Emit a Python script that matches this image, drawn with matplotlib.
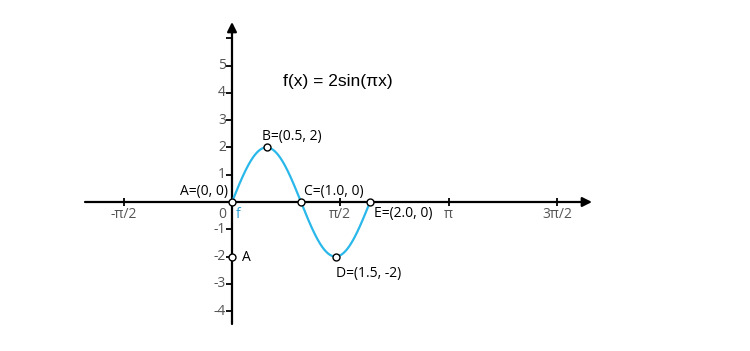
import numpy as np
import matplotlib
matplotlib.use('Agg')
import matplotlib.pyplot as plt

plt.rcParams['font.family'] = ['Open Sans', 'DejaVu Sans']

# data
x_ticks = [-np.pi / 2, np.pi / 2, np.pi, 3 * np.pi / 2]
x_tick_labels = ['-\u03c0/2', '\u03c0/2', '\u03c0', '3\u03c0/2']
y_ticks = [-4, -3, -2, -1, 1, 2, 3, 4, 5]
y_tick_extra = [6]
pt_names = ['A=(0, 0)', 'B=(0.5, 2)', 'C=(1.0, 0)', 'D=(1.5, -2)', 'E=(2.0, 0)', 'A']
pt_x = [0, 0.5, 1.0, 1.5, 2.0, 0]
pt_y = [0, 2, 0, -2, 0, -2]
# label offsets in pixels and alignment
pt_off = [(-4, 10), (-4, 11), (3, 10), (1, -17), (4, -11), (10, -1)]
pt_ha = ['right', 'left', 'left', 'left', 'left', 'left']

curve_x = np.linspace(0, 2, 300)
curve_y = 2 * np.sin(np.pi * curve_x)

fig = plt.figure(figsize=(7.5, 3.51), dpi=100)
ax = fig.add_axes([0, 0, 1, 1])
sx = 69.0
sy = 27.3
ax.set_xlim(-232 / sx, 518 / sx)
ax.set_ylim(-149 / sy, 202 / sy)
ax.axis('off')

# axes with arrows
arr = dict(arrowstyle='-|>', lw=1.6, color='black', mutation_scale=14,
           shrinkA=0, shrinkB=0)
ax.annotate('', xy=(360 / sx, 0), xytext=(-147 / sx, 0), arrowprops=arr)
ax.annotate('', xy=(0, 180 / sy), xytext=(0, -122 / sy), arrowprops=arr)

# tick marks
ax.plot(x_ticks, [0] * len(x_ticks), ls='none', marker='|', ms=6, mew=1.3, color='black')
ax.plot([0] * len(y_ticks + y_tick_extra), y_ticks + y_tick_extra, ls='none',
        marker=0, ms=4, mew=1.3, color='black')

tick_color = '#555555'
for xv, lab in zip(x_ticks, x_tick_labels):
    ax.annotate(lab, (xv, 0), xytext=(0, -12), textcoords='offset pixels',
                ha='center', va='center', fontsize=10, color=tick_color)
for yv in y_ticks:
    ax.annotate(str(yv), (0, yv), xytext=(-6, 0), textcoords='offset pixels',
                ha='right', va='center', fontsize=10, color=tick_color)
ax.annotate('0', (0, 0), xytext=(-10, -12), textcoords='offset pixels',
            ha='center', va='center', fontsize=10, color=tick_color)

# function
ax.plot(curve_x, curve_y, color='#2ab8ea', lw=1.6, zorder=3)
ax.annotate('f', (0, 0), xytext=(4, -12), textcoords='offset pixels',
            ha='left', va='center', fontsize=10, color='#2a9fd6')

# points
ax.plot(pt_x, pt_y, ls='none', marker='o', ms=5, mfc='white', mec='black',
        mew=1.0, zorder=4)
for name, px, py, off, ha in zip(pt_names, pt_x, pt_y, pt_off, pt_ha):
    ax.annotate(name, (px, py), xytext=off, textcoords='offset pixels',
                ha=ha, va='center', fontsize=10, color='black')

ax.text(51 / sx, 4.4, 'f(x) = 2sin(\u03c0x)', ha='left', va='center',
        fontsize=12.5, family=['Liberation Sans', 'DejaVu Sans'])

fig.savefig('out.png', dpi=100)
